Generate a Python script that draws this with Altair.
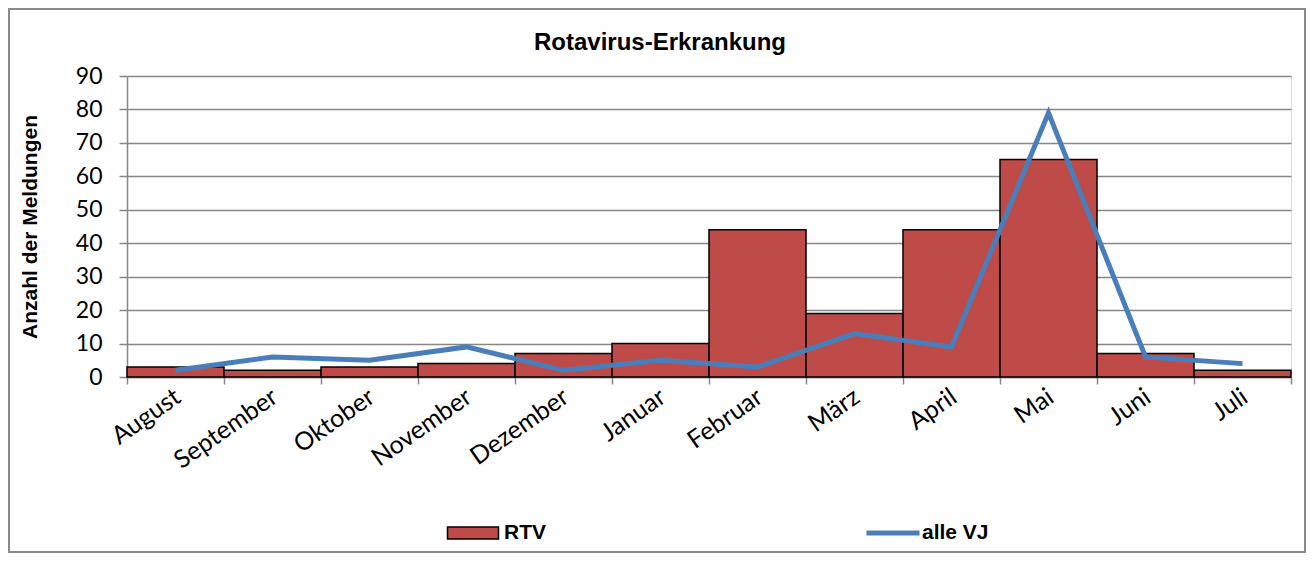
import altair as alt
import pandas as pd

months = ["August", "September", "Oktober", "November", "Dezember", "Januar",
          "Februar", "März", "April", "Mai", "Juni", "Juli"]
rtv = [3, 2, 3, 4, 7, 10, 44, 19, 44, 65, 7, 2]
alle_vj = [2, 6, 5, 9, 2, 5, 3, 13, 9, 79, 6, 4]
y_ticks = [0, 10, 20, 30, 40, 50, 60, 70, 80, 90]

df = pd.DataFrame({
    "Monat": months,
    "RTV": rtv,
    "alle VJ": alle_vj,
    "s_bar": ["RTV"] * len(months),
    "s_line": ["alle VJ"] * len(months),
})

W, H = 1164, 301
LABEL_FONT = "Lato"
BOLD_FONT = "Liberation Sans"
GRID = "#878787"

x_axis = alt.Axis(
    title=None,
    labelAngle=-35,
    labelFont=LABEL_FONT,
    labelFontSize=25,
    labelColor="black",
    labelPadding=0,
    labelOffset=-5,
    tickBand="extent",
    tickSize=7,
    tickColor=GRID,
    tickWidth=1.5,
    domainColor=GRID,
    domainWidth=1.5,
    grid=False,
)

x_enc = alt.X(
    "Monat:N",
    sort=months,
    scale=alt.Scale(paddingInner=0, paddingOuter=0),
    axis=x_axis,
)

y_scale = alt.Scale(domain=[0, 90], nice=False)
y_axis = alt.Axis(
    values=y_ticks,
    tickCount=10,
    labelOverlap=False,
    title="Anzahl der Meldungen",
    titleFont=BOLD_FONT,
    titleFontSize=21,
    titleFontWeight="bold",
    titleColor="black",
    titleX=-97,
    titleY=H / 2,
    titleAngle=-90,
    titleAlign="center",
    titleBaseline="middle",
    labelFont=LABEL_FONT,
    labelFontSize=23,
    labelColor="black",
    labelPadding=17,
    tickSize=8,
    tickColor=GRID,
    tickWidth=1.5,
    domainColor=GRID,
    domainWidth=1.5,
    grid=True,
    gridColor=GRID,
    gridWidth=1.5,
)

frame = alt.Chart(df).mark_rect(fill=None, stroke="#8a8a8a", strokeWidth=2).encode(
    x=alt.value(-118), x2=alt.value(1178), y=alt.value(-67), y2=alt.value(476)
)

bars = alt.Chart(df).mark_bar(stroke="black", strokeWidth=1.5).encode(
    x=x_enc,
    y=alt.Y("RTV:Q", scale=y_scale, axis=y_axis),
    fill=alt.Fill(
        "s_bar:N",
        scale=alt.Scale(domain=["RTV"], range=["#BE4B48"]),
        legend=alt.Legend(
            title=None,
            orient="none",
            legendX=333,
            legendY=444,
            symbolType="M-2.125,-0.5H2.125V0.5H-2.125Z",
            symbolSize=576,
            symbolStrokeColor="black",
            symbolStrokeWidth=1.5,
            symbolFillColor="#BE4B48",
            symbolOpacity=1,
            labelFont=BOLD_FONT,
            labelFontSize=21,
            labelFontWeight="bold",
            labelColor="black",
            labelOffset=18,
            labelBaseline="middle",
        ),
    ),
)

line = alt.Chart(df).mark_line(strokeWidth=5).encode(
    x=alt.X("Monat:N", sort=months, axis=x_axis),
    y=alt.Y("alle VJ:Q", scale=y_scale, axis=y_axis),
    stroke=alt.Stroke(
        "s_line:N",
        scale=alt.Scale(domain=["alle VJ"], range=["#4A7EBB"]),
        legend=alt.Legend(
            title=None,
            orient="none",
            legendX=737,
            legendY=428,
            symbolType="stroke",
            symbolSize=2809,
            symbolStrokeWidth=5,
            labelFont=BOLD_FONT,
            labelFontSize=21,
            labelFontWeight="bold",
            labelColor="black",
            labelOffset=0,
            labelBaseline="middle",
        ),
    ),
)

chart = alt.layer(frame, bars, line).properties(
    width=W,
    height=H,
    autosize=alt.AutoSizeParams(type="none"),
    padding={"left": 119, "top": 68, "right": 15, "bottom": 177},
    title=alt.TitleParams(
        "Rotavirus-Erkrankung",
        anchor="middle",
        dx=-49,
        offset=-47,
        font=BOLD_FONT,
        fontSize=24,
        fontWeight="bold",
        color="black",
    ),
).configure_view(stroke=None).configure(background="white")

chart.save("out.html", embed_options={"renderer": "svg", "actions": False})
